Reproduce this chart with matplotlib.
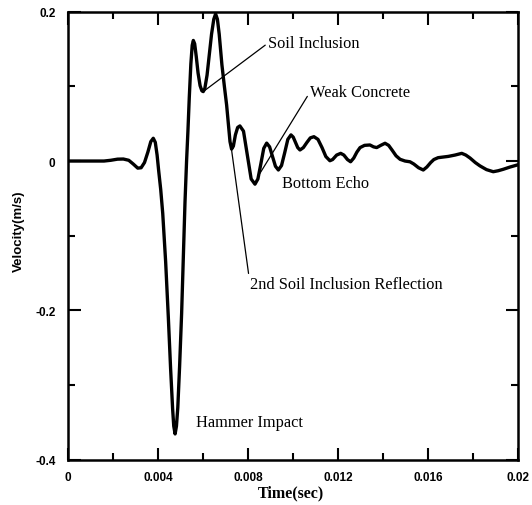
import numpy as np
import matplotlib
matplotlib.use('Agg')
import matplotlib.pyplot as plt
from matplotlib.ticker import MultipleLocator

# velocity record, time in seconds
time_s = [0.0, 0.0016, 0.0019, 0.0022, 0.00246, 0.0027, 0.0029, 0.0031, 0.00325,
          0.0034, 0.00355, 0.00368, 0.00379, 0.00388, 0.00396, 0.00403, 0.00412,
          0.00421, 0.00434, 0.00446, 0.00456, 0.00465, 0.0047, 0.00476, 0.00482,
          0.00488, 0.00496, 0.00505, 0.00513, 0.0052, 0.00527, 0.00533, 0.00539,
          0.00546, 0.00552, 0.00557, 0.00563, 0.0057, 0.00578, 0.00587, 0.00595,
          0.00601, 0.00608, 0.00618, 0.00628, 0.00638, 0.00648, 0.00656, 0.00664,
          0.00672, 0.00684, 0.00695, 0.00705, 0.00713, 0.0072, 0.00727, 0.00735,
          0.00744, 0.00754, 0.00764, 0.0078, 0.00797, 0.00814, 0.00831, 0.00844,
          0.00857, 0.0087, 0.00883, 0.00896, 0.00909, 0.00922, 0.00935, 0.00949,
          0.00963, 0.00977, 0.00991, 0.01001, 0.01011, 0.01021, 0.01031, 0.01046,
          0.01062, 0.01077, 0.01093, 0.01111, 0.01129, 0.01146, 0.01164, 0.01176,
          0.01194, 0.01212, 0.01226, 0.01242, 0.01256, 0.0127, 0.01284, 0.01298,
          0.01318, 0.01342, 0.01358, 0.01372, 0.0139, 0.01409, 0.01425, 0.0144,
          0.01458, 0.01476, 0.01498, 0.0152, 0.01537, 0.01558, 0.01579, 0.01595,
          0.01612, 0.01626, 0.01645, 0.0167, 0.0169, 0.0172, 0.0175, 0.01768,
          0.01787, 0.0181, 0.01831, 0.0186, 0.0189, 0.01912, 0.01935, 0.01965,
          0.01994, 0.0200]
velocity = [0.0, 0.0, 0.001, 0.0025, 0.0027, 0.001, -0.004, -0.0095, -0.009,
            -0.002, 0.012, 0.026, 0.0305, 0.025, 0.008, -0.013, -0.038,
            -0.070, -0.135, -0.210, -0.278, -0.332, -0.355, -0.3655, -0.355,
            -0.33, -0.275, -0.204, -0.125, -0.055, 0.0, 0.04, 0.085,
            0.13, 0.155, 0.1615, 0.157, 0.14, 0.118, 0.101, 0.094,
            0.093, 0.097, 0.115, 0.143, 0.17, 0.19, 0.197, 0.19,
            0.17, 0.129, 0.1, 0.075, 0.048, 0.026, 0.016, 0.02,
            0.035, 0.045, 0.047, 0.040, 0.008, -0.024, -0.031, -0.024,
            -0.004, 0.017, 0.024, 0.019, 0.006, -0.007, -0.012, -0.006,
            0.011, 0.029, 0.035, 0.032, 0.025, 0.018, 0.0148, 0.018,
            0.025, 0.031, 0.0326, 0.029, 0.018, 0.006, 0.0004, 0.002,
            0.008, 0.0103, 0.008, 0.002, -0.001, 0.004, 0.012, 0.018,
            0.021, 0.0215, 0.019, 0.018, 0.021, 0.0238, 0.021, 0.0148,
            0.007, 0.0023, 0.0, -0.001, -0.004, -0.009, -0.012, -0.008,
            -0.002, 0.002, 0.0045, 0.0055, 0.0062, 0.008, 0.0103, 0.008,
            0.004, -0.002, -0.0065, -0.0115, -0.0143, -0.013, -0.011, -0.008,
            -0.0054, -0.005]

x_ticks = [0, 0.004, 0.008, 0.012, 0.016, 0.02]
x_labels = ['0', '0.004', '0.008', '0.012', '0.016', '0.02']
y_ticks = [-0.4, -0.2, 0, 0.2]
y_labels = ['-0.4', '-0.2', '0', '0.2']

# (label, point on curve or None, text position)
notes = [
    ('Soil Inclusion', (0.00601, 0.093), (0.00889, 0.158)),
    ('Weak Concrete', (0.00853, -0.0165), (0.01076, 0.0926)),
    ('Bottom Echo', None, (0.00951, -0.0295)),
    ('2nd Soil Inclusion Reflection', (0.00727, 0.0148), (0.00809, -0.165)),
    ('Hammer Impact', None, (0.00569, -0.350)),
]

fig = plt.figure(figsize=(5.32, 5.06), dpi=100)
ax = fig.add_axes([68/532, 1-460.7/506, 450/532, 448/506])

ax.plot(time_s, velocity, color='black', lw=2.4,
        solid_joinstyle='round', solid_capstyle='round')
ax.set_xlim(0, 0.02)
ax.set_ylim(-0.4, 0.2)

ax.set_xticks(x_ticks)
ax.set_xticklabels(x_labels)
ax.set_yticks(y_ticks)
ax.set_yticklabels(y_labels)
ax.xaxis.set_minor_locator(MultipleLocator(0.002))
ax.yaxis.set_minor_locator(MultipleLocator(0.1))
ax.tick_params(which='both', direction='in', top=True, right=True, width=1.5)
ax.tick_params(which='major', length=9)
ax.tick_params(which='minor', length=5)
ax.tick_params(axis='x', pad=8)
ax.tick_params(axis='y', pad=9)
for lab in ax.get_xticklabels() + ax.get_yticklabels():
    lab.set_fontfamily('Liberation Sans')
    lab.set_fontweight('bold')
    lab.set_fontsize(8.5)
for sp in ax.spines.values():
    sp.set_linewidth(1.8)

ax.set_xlabel('Time(sec)', family='Liberation Serif', weight='bold', fontsize=11.5)
ax.xaxis.set_label_coords(0.496, -0.056)
ax.set_ylabel('Velocity(m/s)', family='Liberation Sans', weight='bold', fontsize=9.5)
ax.yaxis.set_label_coords(-0.0956, 0.513)

for label, pt, txt in notes:
    if pt is None:
        ax.text(txt[0], txt[1], label, family='Liberation Serif', fontsize=11.8,
                ha='left', va='center')
    else:
        ax.annotate(label, xy=pt, xytext=txt, family='Liberation Serif', fontsize=11.8,
                    ha='left', va='center',
                    arrowprops=dict(arrowstyle='-', color='black', lw=0.9,
                                    shrinkA=0, shrinkB=0, relpos=(0, 0.5)))

fig.savefig('out.png', dpi=100)
